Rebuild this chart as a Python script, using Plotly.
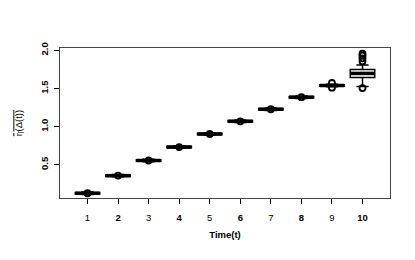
import plotly.graph_objects as go

times = [1, 2, 3, 4, 5, 6, 7, 8, 9, 10]
medians = [0.128, 0.359, 0.557, 0.733, 0.904, 1.070, 1.228, 1.386, 1.539, 1.697]
q1 = [0.118, 0.349, 0.547, 0.723, 0.894, 1.060, 1.218, 1.376, 1.529, 1.645]
q3 = [0.138, 0.369, 0.567, 0.743, 0.914, 1.080, 1.238, 1.396, 1.549, 1.750]
lower = [0.112, 0.343, 0.541, 0.717, 0.888, 1.054, 1.212, 1.370, 1.523, 1.525]
upper = [0.144, 0.375, 0.573, 0.749, 0.920, 1.086, 1.244, 1.402, 1.555, 1.806]
outliers = [[0.128], [0.359], [0.557], [0.733], [0.904], [1.070], [1.228], [1.386],
            [1.510, 1.572], [1.505, 1.855, 1.895, 1.930, 1.955]]
xtick_labels = ["1", "<b>2</b>", "3", "<b>4</b>", "5", "<b>6</b>", "7", "<b>8</b>", "9", "<b>10</b>"]
ytick_vals = [0.5, 1.0, 1.5, 2.0]
ytick_labels = ["<b>0.5</b>", "<b>1.0</b>", "<b>1.5</b>", "<b>2.0</b>"]

fig = go.Figure()
fig.add_trace(go.Box(
    x=times, q1=q1, median=medians, q3=q3, lowerfence=lower, upperfence=upper,
    width=0.8, whiskerwidth=0.5, fillcolor="white",
    line=dict(color="black", width=1.5), boxpoints=False, showlegend=False,
))
# thick median lines (R style)
mx, my = [], []
for t, m in zip(times, medians):
    mx += [t - 0.4, t + 0.4, None]
    my += [m, m, None]
fig.add_trace(go.Scatter(x=mx, y=my, mode="lines", line=dict(color="black", width=3.5),
                         showlegend=False, hoverinfo="skip"))
ox, oy = [], []
for t, vals in zip(times, outliers):
    for v in vals:
        ox.append(t)
        oy.append(v)
fig.add_trace(go.Scatter(x=ox, y=oy, mode="markers",
                         marker=dict(symbol="circle-open", size=6, color="black", line=dict(width=1.8)),
                         showlegend=False))

font = "Liberation Sans, Arial, sans-serif"
fig.update_layout(
    width=415, height=260,
    margin=dict(l=60, r=25, t=48, b=62),
    paper_bgcolor="white", plot_bgcolor="white",
    font=dict(family=font, size=9, color="black"),
)
fig.update_xaxes(
    range=[0.1, 10.9], tickmode="array", tickvals=times, ticktext=xtick_labels,
    showgrid=False, zeroline=False, showline=True, linecolor="#444", linewidth=1, mirror=True,
    ticks="outside", ticklen=5, tickcolor="black", tickfont=dict(size=9.5), automargin=False,
    ticklabelstandoff=6,
    title=dict(text="<b>Time(t)</b>", font=dict(size=9.5), standoff=8),
)
fig.update_yaxes(
    range=[0.066, 2.03], tickmode="array", tickvals=ytick_vals, ticktext=ytick_labels,
    tickangle=-90, showgrid=False, zeroline=False, showline=True, linecolor="#444", linewidth=1,
    mirror=True, ticks="outside", ticklen=5, tickcolor="black", tickfont=dict(size=9.5),
    automargin=False, ticklabelstandoff=2,
    title=dict(text="<span style='text-decoration:overline'>r<sub>l</sub>(Δ(t))</span>",
               font=dict(size=9.5), standoff=14),
)
fig.write_html("out.html", config={"displayModeBar": False},
               post_script="document.body.style.margin='0';")
